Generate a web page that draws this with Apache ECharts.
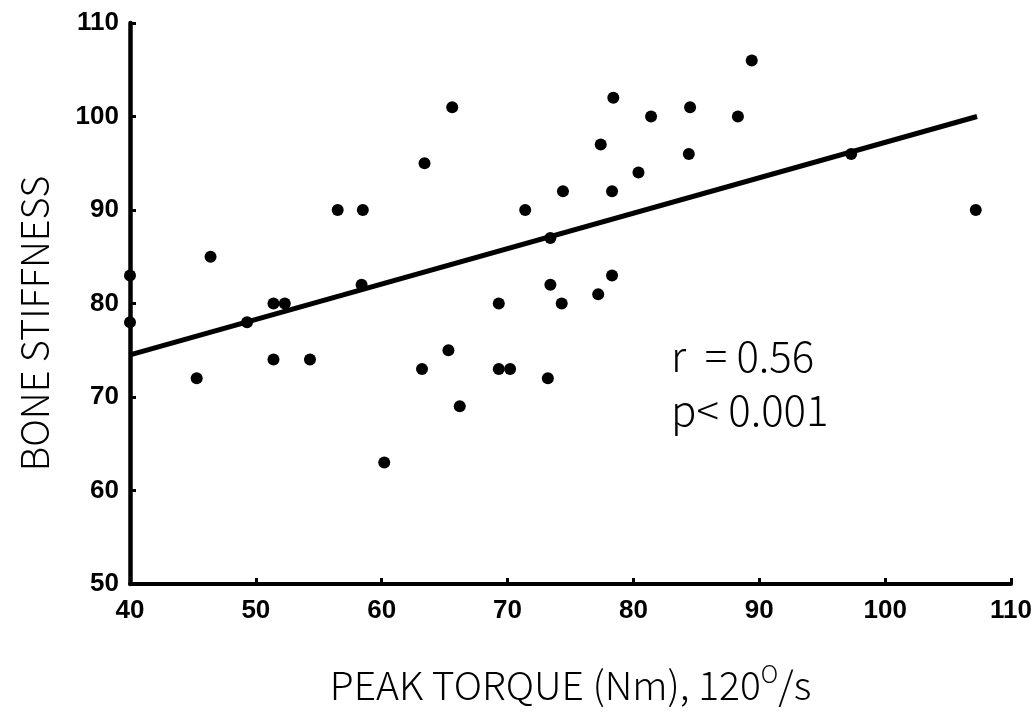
<!DOCTYPE html>
<html>
<head>
<meta charset="utf-8">
<script src="https://cdn.jsdelivr.net/npm/echarts@6/dist/echarts.min.js"></script>
<style>
  html, body { margin: 0; padding: 0; background: #fff; }
  #chart { width: 1035px; height: 715px; }
</style>
</head>
<body>
<div id="chart"></div>
<script>
// peak torque (Nm) vs bone stiffness
var torque = [40, 40, 45.3, 46.4, 49.3, 51.4, 52.3, 51.4, 54.3, 56.5,
              58.5, 58.4, 60.2, 63.2, 63.4, 65.3, 65.6, 66.2, 69.3, 69.3,
              70.2, 71.4, 73.4, 73.4, 73.2, 74.3, 74.4, 77.4, 77.2, 78.3,
              78.4, 78.3, 80.4, 81.4, 84.5, 84.4, 88.3, 89.4, 97.3, 107.2];
var stiffness = [83, 78, 72, 85, 78, 80, 80, 74, 74, 90,
                 90, 82, 63, 73, 95, 75, 101, 69, 80, 73,
                 73, 90, 87, 82, 72, 80, 92, 97, 81, 92,
                 102, 83, 94, 100, 101, 96, 100, 106, 96, 90];
// regression line ends
var fitX = [40, 107.3];
var fitY = [74.5, 100];
var xTicks = [40, 50, 60, 70, 80, 90, 100, 110];
var yTicks = [50, 60, 70, 80, 90, 100, 110];
var stats = ['r  = 0.56', 'p< 0.001'];

var points = torque.map(function (t, i) { return [t, stiffness[i]]; });
var fit = fitX.map(function (t, i) { return [t, fitY[i]]; });

var myChart = echarts.init(document.getElementById('chart'));

var tickFont = {
  color: '#000',
  fontFamily: 'Liberation Sans Narrow, Liberation Sans, sans-serif',
  fontWeight: 'bold',
  fontSize: 26
};
var thinFont = 'Noto Sans CJK JP, Noto Sans, sans-serif';

var option = {
  backgroundColor: '#fff',
  animation: false,
  grid: { left: 130, right: 21, top: 23, bottom: 131 },
  xAxis: {
    type: 'value',
    min: xTicks[0],
    max: xTicks[xTicks.length - 1],
    interval: 10,
    name: 'PEAK TORQUE (Nm), 120{sup|O}/s',
    nameLocation: 'middle',
    nameGap: 78,
    nameTextStyle: {
      color: '#000',
      fontFamily: thinFont,
      fontWeight: 300,
      fontSize: 39,
      lineHeight: 46,
      rich: {
        sup: {
          fontFamily: thinFont,
          fontWeight: 300,
          fontSize: 24,
          verticalAlign: 'top',
          lineHeight: 46,
          padding: [0, 0, 16, 0]
        }
      }
    },
    axisLine: { lineStyle: { color: '#000', width: 4 } },
    axisTick: { inside: true, length: 6, lineStyle: { color: '#000', width: 3 } },
    axisLabel: Object.assign({ margin: 14 }, tickFont),
    splitLine: { show: false }
  },
  yAxis: {
    type: 'value',
    min: yTicks[0],
    max: yTicks[yTicks.length - 1],
    interval: 10,
    name: 'BONE STIFFNESS',
    nameLocation: 'middle',
    nameGap: 76,
    nameTextStyle: {
      color: '#000',
      fontFamily: thinFont,
      fontWeight: 300,
      fontSize: 38,
      padding: [0, 40, 0, 0]
    },
    axisLine: { show: true, lineStyle: { color: '#000', width: 4.5 } },
    axisTick: { show: true, inside: true, length: 6, lineStyle: { color: '#000', width: 3 } },
    axisLabel: Object.assign({ margin: 11 }, tickFont),
    splitLine: { show: false }
  },
  graphic: [
    {
      type: 'text',
      left: 671,
      top: 329,
      style: {
        text: stats.join('\n'),
        fill: '#000',
        font: '300 42px "Noto Sans CJK JP", "Noto Sans", sans-serif',
        lineHeight: 54
      }
    }
  ],
  series: [
    {
      name: 'fit',
      type: 'line',
      data: fit,
      showSymbol: false,
      symbol: 'none',
      lineStyle: { color: '#000', width: 5 },
      z: 2
    },
    {
      name: 'subjects',
      type: 'scatter',
      data: points,
      symbolSize: 12,
      itemStyle: { color: '#000', opacity: 1 },
      z: 3
    }
  ]
};

myChart.setOption(option);
</script>
</body>
</html>
